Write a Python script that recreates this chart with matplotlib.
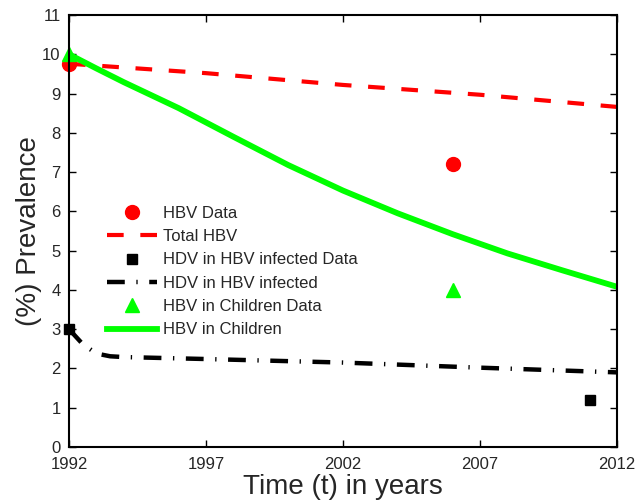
import matplotlib
matplotlib.use("Agg")
import matplotlib.pyplot as plt

plt.rcParams["font.family"] = ["Liberation Sans", "DejaVu Sans"]

# ---------------------------------------------------------------------------
# Data
# ---------------------------------------------------------------------------
hbv_data_years = [1992, 2006]
hbv_data_vals = [9.75, 7.2]

total_hbv_years = [1992, 1997, 2002, 2007, 2012]
total_hbv_vals = [9.76, 9.52, 9.22, 8.97, 8.66]

hdv_data_years = [1992, 2011]
hdv_data_vals = [3.0, 1.2]

hdv_years = [1992, 1992.5, 1993, 1993.5, 1994, 1997, 2002, 2007, 2012]
hdv_vals = [3.0, 2.62, 2.38, 2.31, 2.29, 2.24, 2.15, 2.02, 1.90]

child_data_years = [1992, 2006]
child_data_vals = [10.0, 4.0]

child_years = [1992, 1993, 1994, 1995, 1996, 1998, 2000, 2002, 2004, 2006,
               2008, 2010, 2012]
child_vals = [10.0, 9.64, 9.29, 8.96, 8.63, 7.90, 7.18, 6.53, 5.95, 5.42,
              4.93, 4.50, 4.08]

x_ticks = [1992, 1997, 2002, 2007, 2012]
y_ticks = list(range(0, 12))

TEXT = "#262626"

# ---------------------------------------------------------------------------
# Plot
# ---------------------------------------------------------------------------
fig = plt.figure(figsize=(6.37, 5.01), dpi=100)
ax = fig.add_axes([0.1083, 0.1078, 0.8603, 0.8622])

ax.plot(hbv_data_years, hbv_data_vals, "o", color="red", markersize=10,
        linestyle="none", clip_on=False, label="HBV Data")
ax.plot(total_hbv_years, total_hbv_vals, color="red", lw=3,
        dashes=(4, 4), dash_capstyle="butt", label="Total HBV")
ax.plot(hdv_data_years, hdv_data_vals, "s", color="black", markersize=7,
        linestyle="none", clip_on=False, label="HDV in HBV infected Data")
ax.plot(hdv_years, hdv_vals, color="black", lw=3.2,
        dashes=(4, 2.6, 0.3, 2.6), dash_capstyle="butt",
        label="HDV in HBV infected")
ax.plot(child_data_years, child_data_vals, "^", color="#00ff00",
        markersize=10, linestyle="none", clip_on=False,
        label="HBV in Children Data")
ax.plot(child_years, child_vals, color="#00ff00", lw=4.2,
        label="HBV in Children")

ax.set_xlim(1992, 2012)
ax.set_ylim(0, 11)
ax.set_xticks(x_ticks)
ax.set_yticks(y_ticks)
ax.tick_params(direction="in", length=5, width=1, top=True, right=True,
               labelsize=12, colors="black", labelcolor=TEXT)
ax.tick_params(axis="y", pad=6)
ax.tick_params(axis="x", pad=7)
for s in ax.spines.values():
    s.set_linewidth(1.5)

ax.set_xlabel("Time (t) in years", fontsize=20, color=TEXT, labelpad=2)
ax.set_ylabel("(%) Prevalence", fontsize=20, color=TEXT, labelpad=0)

leg = ax.legend(loc="center left", bbox_to_anchor=(0.069, 0.406),
                frameon=False, fontsize=12, handlelength=3.0,
                labelspacing=0.5, borderpad=0, borderaxespad=0,
                handletextpad=0.4)
for t in leg.get_texts():
    t.set_color(TEXT)

fig.savefig("out.png", dpi=100)
